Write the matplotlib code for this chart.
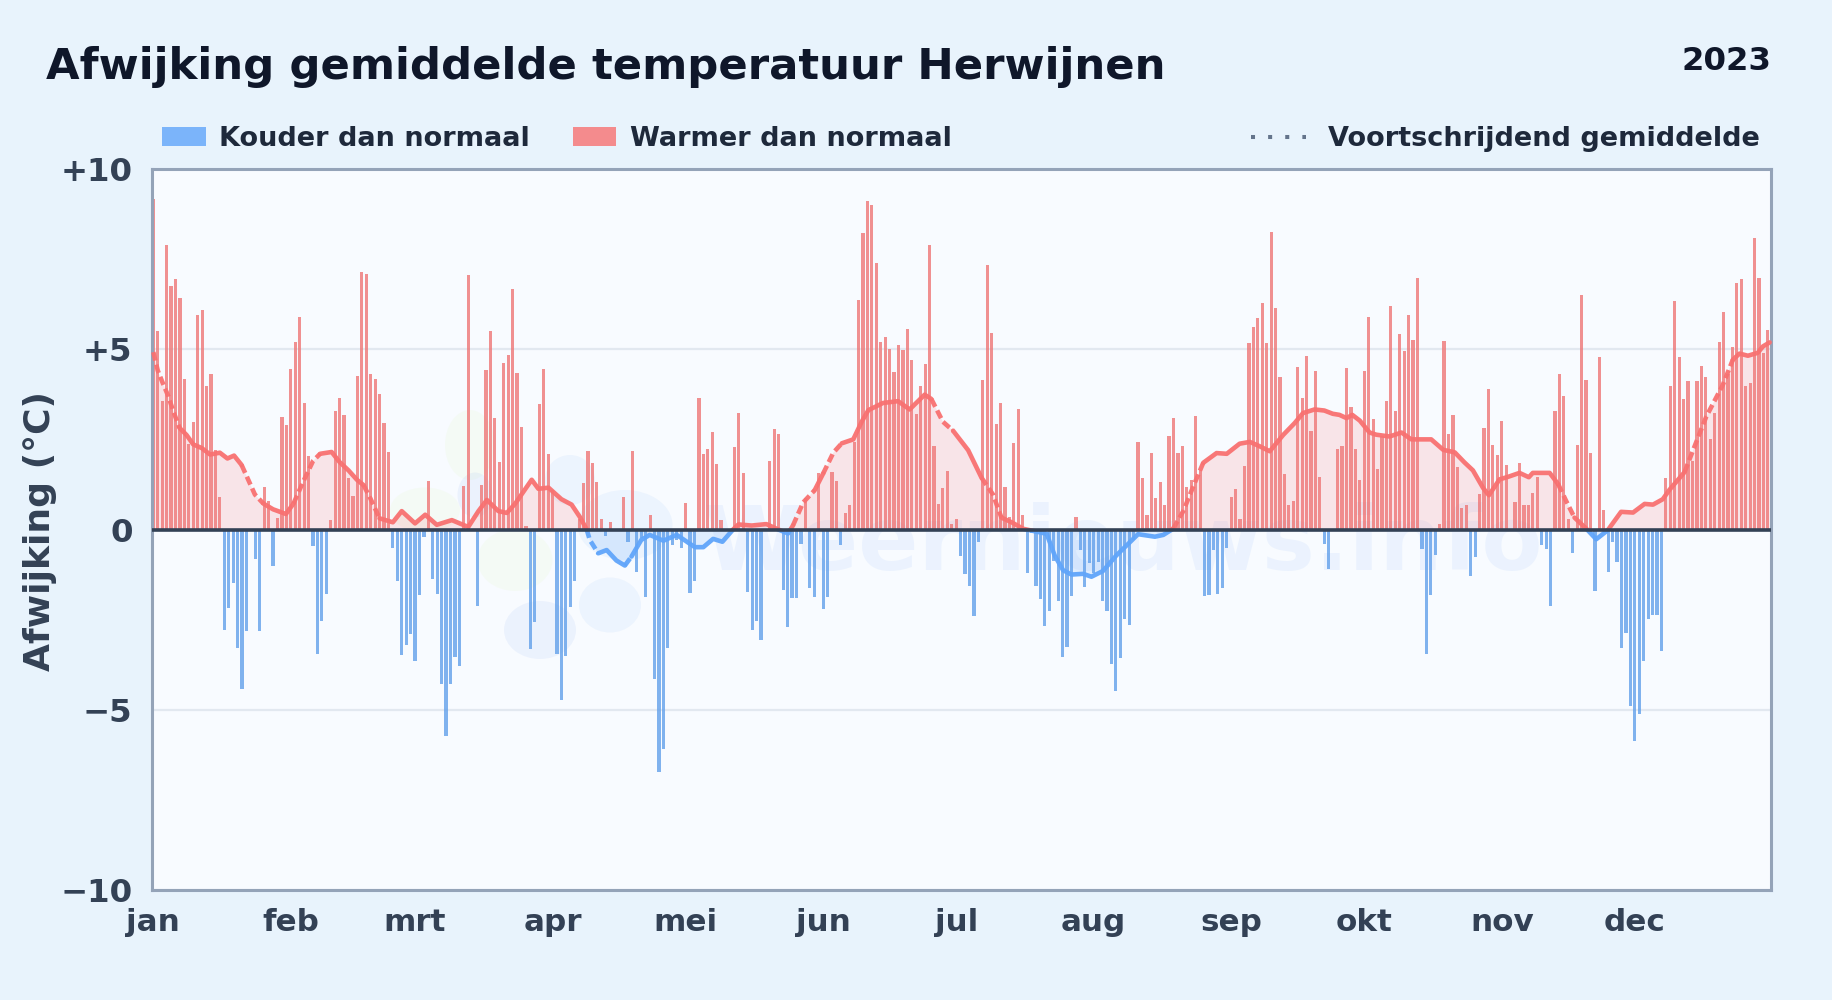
import numpy as np
import matplotlib
matplotlib.use('Agg')
import matplotlib.pyplot as plt
from matplotlib.lines import Line2D
from matplotlib.patches import Ellipse, Rectangle
from matplotlib.transforms import IdentityTransform

months = ['jan', 'feb', 'mrt', 'apr', 'mei', 'jun', 'jul', 'aug', 'sep', 'okt', 'nov', 'dec']
month_starts = [0, 31, 59, 90, 120, 151, 181, 212, 243, 273, 304, 334]
y_ticks = [10, 5, 0, -5, -10]
y_labels = ['+10', '+5', '0', '\u22125', '\u221210']

jan = [9.18, 5.5, 3.57, 7.88, 6.76, 6.95, 6.43, 4.18, 2.38, 2.99, 5.96, 6.09, 3.99, 4.3, 2.2, 0.91,
       -2.79, -2.18, -1.49, -3.29, -4.43, -2.82, 0, -0.82, -2.82, 1.19, 0.8, -1.0, 0.31, 3.13, 2.91]
feb = [4.46, 5.21, 5.9, 3.52, 2.05, -0.46, -3.46, -2.54, -1.8, 0.25, 3.29, 3.66, 3.19, 1.42, 0.94,
       4.27, 7.15, 7.1, 4.3, 4.18, 3.76, 2.96, 2.16, -0.51, -1.44, -3.49, -3.21, -2.9]
mrt = [-3.65, -1.83, -0.2, 1.35, -1.37, -1.8, -4.29, -5.72, -4.29, -3.54, -3.8, 1.22, 7.07, 0, -2.12,
       1.24, 4.43, 5.52, 3.08, 1.86, 4.63, 4.85, 6.66, 4.35, 2.85, 0.1, -3.32, -2.57, 3.47, 4.46, 2.1]
apr = [1.1, -3.45, -4.74, -3.5, -2.15, -1.44, 0.3, 1.3, 2.18, 1.85, 1.33, 0.3, -0.17, 0.22, 0, 0, 0.9,
       -0.36, 2.18, -1.18, -0.23, -1.87, 0.39, -4.14, -6.72, -6.09, -3.28, -0.44, -0.29, -0.52]
mei = [0.74, -1.77, -1.44, 3.66, 2.09, 2.22, 2.71, 1.83, 0.25, 0, 0, 2.3, 3.24, 1.57, -1.72, -2.79,
       -2.54, -3.07, 0, 1.91, 2.8, 2.66, -1.68, -2.71, -1.89, -1.91, -0.4, 0.86, -1.62, -1.87, 1.57]
jun = [-2.2, -1.87, 1.6, 1.34, -0.44, 0.45, 0.69, 2.44, 6.38, 8.23, 9.11, 9.01, 7.38, 5.21, 5.34, 5.0,
       4.38, 5.11, 4.98, 5.57, 4.71, 3.2, 3.97, 4.6, 7.9, 2.32, 0.72, 1.14, 1.61, 0.15]
jul = [0.3, -0.74, -1.24, -1.57, -2.4, -0.35, 4.15, 7.33, 5.44, 2.93, 3.52, 1.19, 0.35, 2.41, 3.35, 0.39,
       -1.21, -0.1, -1.57, -1.94, -2.69, -2.27, -0.86, -1.99, -3.54, -3.26, -1.85, 0.35, -0.57, -1.6, -0.94]
aug = [-1.2, -0.9, -1.99, -2.27, -3.73, -4.48, -3.57, -2.49, -2.66, -0.3, 2.44, 1.44, 0.41, 2.12, 0.86,
       1.32, 0.67, 2.6, 3.08, 2.13, 2.33, 1.19, 1.38, 3.16, 1.64, -1.85, -1.83, -0.57, -1.8, -1.63, -0.51]
sep = [0.91, 1.11, 0.28, 1.77, 5.18, 5.63, 5.88, 6.29, 5.18, 8.26, 6.15, 4.24, 1.55, 0.69, 0.8, 4.51,
       3.66, 4.82, 2.72, 4.41, 1.47, -0.41, -1.1, 0, 2.24, 2.33, 4.48, 3.41, 2.24, 1.38]
okt = [4.4, 5.9, 3.07, 1.69, 2.58, 3.57, 6.2, 3.29, 5.43, 4.96, 5.95, 5.26, 6.98, -0.55, -3.45, -1.83,
       -0.71, 0.14, 5.23, 2.65, 3.18, 1.74, 0.6, 0.68, -1.3, -0.75, 0.99, 2.82, 3.9, 2.35, 2.07]
nov = [3.02, 1.8, 0, 0.77, 1.85, 0.68, 0.68, 1.02, 1.46, -0.44, -0.55, -2.11, 3.29, 4.32, 3.71, 0.3,
       -0.64, 2.35, 6.51, 4.16, 2.13, -1.7, 4.79, 0.55, -1.18, -0.36, -0.89, -3.3, -2.88, -4.9]
dec = [-5.88, -5.13, -3.66, -2.49, -2.36, -2.36, -3.38, 1.44, 3.98, 6.34, 4.79, 3.63, 4.12, 1.9, 4.12,
       4.54, 4.23, 2.51, 3.23, 5.21, 6.04, 4.3, 5.07, 6.84, 6.95, 3.98, 4.06, 8.09, 6.98, 4.9, 5.54]
values = np.array(jan + feb + mrt + apr + mei + jun + jul + aug + sep + okt + nov + dec)

# voortschrijdend gemiddelde: dag, waarde
avg_days = [0, 1, 2, 3.4, 4.5, 5.9, 7.5, 9, 10.9, 12.8, 15, 16.7, 18.2, 19.9, 21.4, 22.9, 24.8, 27, 29.9,
            31.6, 33.8, 36, 37.6, 40.2, 42, 44, 45.9, 47.4, 48.9, 51, 54, 56, 59, 61.3, 63.9, 67.3, 71,
            73.3, 75.2, 77.8, 79.7, 81.6, 85.3, 86.8, 89.1, 92, 94.3, 96.2, 97.7, 98.4, 100.3, 102.2,
            104.4, 106.3, 107.8, 110, 111.9, 115, 118, 122.1, 124, 126.2, 128.3, 130.7, 131.9, 134.9,
            138.2, 140.9, 143.1, 144.2, 146.5, 149.1, 151, 153.3, 155.2, 157.8, 159.7, 161.2, 164.5,
            167.9, 170.5, 173.9, 175.4, 178, 180.3, 183.7, 186.7, 189.3, 191.2, 193.5, 196.1, 201.4,
            203.2, 205.1, 207, 209.6, 211.5, 214.1, 217.1, 220.1, 222, 225.8, 227.7, 229.9, 232.2,
            234.4, 236.7, 239.7, 242, 244.9, 247.2, 249.4, 251.7, 254.7, 257.3, 259.2, 261.8, 264,
            265.9, 267.4, 269, 270.3, 272, 274.2, 275.7, 278.7, 281.4, 283.6, 288.1, 290.8, 293.4,
            295.6, 297.5, 299.8, 301.1, 303.5, 305.4, 308, 310.1, 311, 314.8, 316.7, 318.6, 320.4,
            323, 325.3, 327.9, 330.9, 333.6, 336.2, 338.1, 340.3, 341.8, 345.2, 347.1, 350.1, 353.8,
            356.1, 357.6, 359.5, 361.7, 362.9, 364.4]
avg_values = [4.92, 4.41, 4.1, 3.69, 3.28, 2.82, 2.62, 2.36, 2.26, 2.08, 2.13, 1.97, 2.05, 1.79, 1.38, 0.97,
              0.72, 0.56, 0.43, 0.72, 1.33, 1.9, 2.1, 2.15, 1.87, 1.64, 1.38, 1.23, 0.87, 0.31, 0.2, 0.51,
              0.17, 0.41, 0.13, 0.26, 0.07, 0.51, 0.82, 0.51, 0.46, 0.72, 1.38, 1.13, 1.16, 0.84, 0.69,
              0.34, 0, -0.29, -0.66, -0.57, -0.86, -1.0, -0.75, -0.29, -0.15, -0.31, -0.15, -0.49, -0.49,
              -0.26, -0.34, 0, 0.14, 0.11, 0.15, 0, -0.11, 0.11, 0.75, 1.09, 1.55, 2.13, 2.39, 2.5, 2.99,
              3.31, 3.51, 3.56, 3.33, 3.74, 3.62, 2.99, 2.74, 2.2, 1.44, 0.97, 0.33, 0.2, 0.02, -0.12,
              -0.72, -1.13, -1.25, -1.23, -1.31, -1.15, -0.72, -0.36, -0.13, -0.2, -0.15, 0.02, 0.51,
              1.18, 1.85, 2.12, 2.1, 2.38, 2.43, 2.31, 2.17, 2.62, 2.95, 3.23, 3.33, 3.3, 3.21, 3.18,
              3.09, 3.18, 3.02, 2.69, 2.63, 2.58, 2.69, 2.5, 2.5, 2.21, 2.14, 1.86, 1.64, 1.15, 0.95,
              1.39, 1.46, 1.57, 1.45, 1.57, 1.57, 1.26, 0.77, 0.33, 0.03, -0.27, -0.02, 0.49, 0.47, 0.71,
              0.69, 0.84, 1.1, 1.59, 2.19, 3.13, 4.0, 4.71, 4.88, 4.82, 4.9, 5.08, 5.19]
# stukken waar de lijn gestreept loopt
dash_spans = [(0, 5.9), (19.9, 24.8), (31.6, 37.6), (47.4, 51), (97.7, 100.3), (106.3, 107.8), (144.2, 149.1),
              (151, 155.2), (175.4, 180.3), (186.7, 191.2), (229.9, 236.7), (316.7, 320.4), (345.2, 356.1)]

bg = '#E8F3FC'
red = '#F87171'
blue = '#60A5FA'
bar_red = '#EE7676'
bar_blue = '#62A0EA'
dark = '#0F172A'
label_color = '#334155'
legend_color = '#1E293B'

fig = plt.figure(figsize=(18.32, 10), dpi=100, facecolor=bg)
ax = fig.add_axes([152 / 1832, 1 - 890 / 1000, 1619 / 1832, 721 / 1000], facecolor='#F8FBFF')

days = np.arange(len(values))

# watermerk
ax.text(0.60, 0.444, 'Weernieuws.info', transform=ax.transAxes, fontsize=64, fontweight='bold',
        color='#3B82F6', alpha=0.065, ha='center', va='baseline', zorder=0.5)
logo = [(470, 445, 50, 70, '#BEF264', 0.06), (425, 510, 70, 45, '#BEF264', 0.06),
        (515, 560, 75, 62, '#BEF264', 0.06), (540, 630, 72, 58, '#2563EB', 0.06),
        (570, 480, 50, 50, '#60A5FA', 0.08), (625, 525, 95, 70, '#60A5FA', 0.08),
        (610, 605, 62, 55, '#60A5FA', 0.08), (475, 495, 35, 45, '#2563EB', 0.06)]
for lx, ly, lw_, lh, lc, la in logo:
    ax.add_patch(Ellipse((lx, 1000 - ly), lw_, lh, transform=IdentityTransform(), facecolor=lc, alpha=la,
                         lw=0, zorder=0.4))

ax.set_axisbelow(True)
ax.grid(axis='y', color='#E2E8F0', lw=1.6)
ax.grid(axis='x', visible=False)

colors = [bar_red if v >= 0 else bar_blue for v in values]
ax.bar(days, values, width=0.72, color=colors, alpha=0.8, lw=0, zorder=2)

avg_days = np.array(avg_days)
avg_values = np.array(avg_values)
ax.fill_between(avg_days, avg_values, 0, where=avg_values >= 0, interpolate=True,
                color=red, alpha=0.16, lw=0, zorder=1.8)
ax.fill_between(avg_days, avg_values, 0, where=avg_values <= 0, interpolate=True,
                color=blue, alpha=0.16, lw=0, zorder=1.8)

# lijn in stukken, gestreept of doorgetrokken, rood boven en blauw onder nul
up_clip = Rectangle((-5, 0), 380, 15, transform=ax.transData)
down_clip = Rectangle((-5, -15), 380, 15, transform=ax.transData)
mids = (avg_days[:-1] + avg_days[1:]) / 2
is_dashed = [any(s[0] <= m <= s[1] for s in dash_spans) for m in mids]
start = 0
for i in range(1, len(mids) + 1):
    if i == len(mids) or is_dashed[i] != is_dashed[start]:
        style = (0, (1.9, 0.9)) if is_dashed[start] else '-'
        for col, clip in ((red, up_clip), (blue, down_clip)):
            line, = ax.plot(avg_days[start:i + 1], avg_values[start:i + 1], color=col, lw=3.3, ls=style,
                            alpha=0.95, zorder=3, solid_capstyle='round', solid_joinstyle='round',
                            dash_capstyle='butt', dash_joinstyle='round')
            line.set_clip_path(clip)
        start = i

ax.axhline(0, color=label_color, lw=2.6, zorder=4)

ax.set_xlim(-0.3, 364.7)
ax.set_ylim(-10, 10)
ax.set_xticks(month_starts)
ax.set_xticklabels(months)
ax.set_yticks(y_ticks)
ax.set_yticklabels(y_labels)
ax.tick_params(axis='both', length=0, labelcolor=label_color)
ax.tick_params(axis='x', labelsize=22.3, pad=13)
ax.tick_params(axis='y', labelsize=23.3, pad=14)
for t in ax.get_xticklabels() + ax.get_yticklabels():
    t.set_fontweight('bold')
for s in ax.spines.values():
    s.set_color('#94A3B8')
    s.set_linewidth(2.2)

fig.text(40 / 1832, 1 - 531 / 1000, 'Afwijking (\u00b0C)', rotation=90, fontsize=26, fontweight='bold',
         color=label_color, ha='center', va='center')
fig.text(46 / 1832, 1 - 79 / 1000, 'Afwijking gemiddelde temperatuur Herwijnen', fontsize=31.2,
         fontweight='bold', color=dark, ha='left', va='baseline')
fig.text(1771 / 1832, 1 - 70 / 1000, '2023', fontsize=23.3, fontweight='bold', color=dark,
         ha='right', va='baseline')

# legenda
legend_y = 1 - 136 / 1000
fig.add_artist(Rectangle((162 / 1832, 1 - 146 / 1000), 44 / 1832, 19 / 1000, transform=fig.transFigure,
                         facecolor=blue, alpha=0.8, lw=0))
fig.add_artist(Rectangle((573 / 1832, 1 - 146 / 1000), 43 / 1832, 19 / 1000, transform=fig.transFigure,
                         facecolor=red, alpha=0.8, lw=0))
fig.add_artist(Line2D([1251 / 1832, 1306 / 1832], [1 - 137 / 1000, 1 - 137 / 1000], transform=fig.transFigure,
                      color='#64748B', lw=2.9, ls=(0, (1, 3.25))))
fig.text(219 / 1832, legend_y, 'Kouder dan normaal', fontsize=19.5, fontweight='bold', color=legend_color,
         ha='left', va='center_baseline')
fig.text(630 / 1832, legend_y, 'Warmer dan normaal', fontsize=19.5, fontweight='bold', color=legend_color,
         ha='left', va='center_baseline')
fig.text(1760 / 1832, legend_y, 'Voortschrijdend gemiddelde', fontsize=19.5, fontweight='bold',
         color=legend_color, ha='right', va='center_baseline')

fig.savefig('out.png', dpi=100, facecolor=bg)
